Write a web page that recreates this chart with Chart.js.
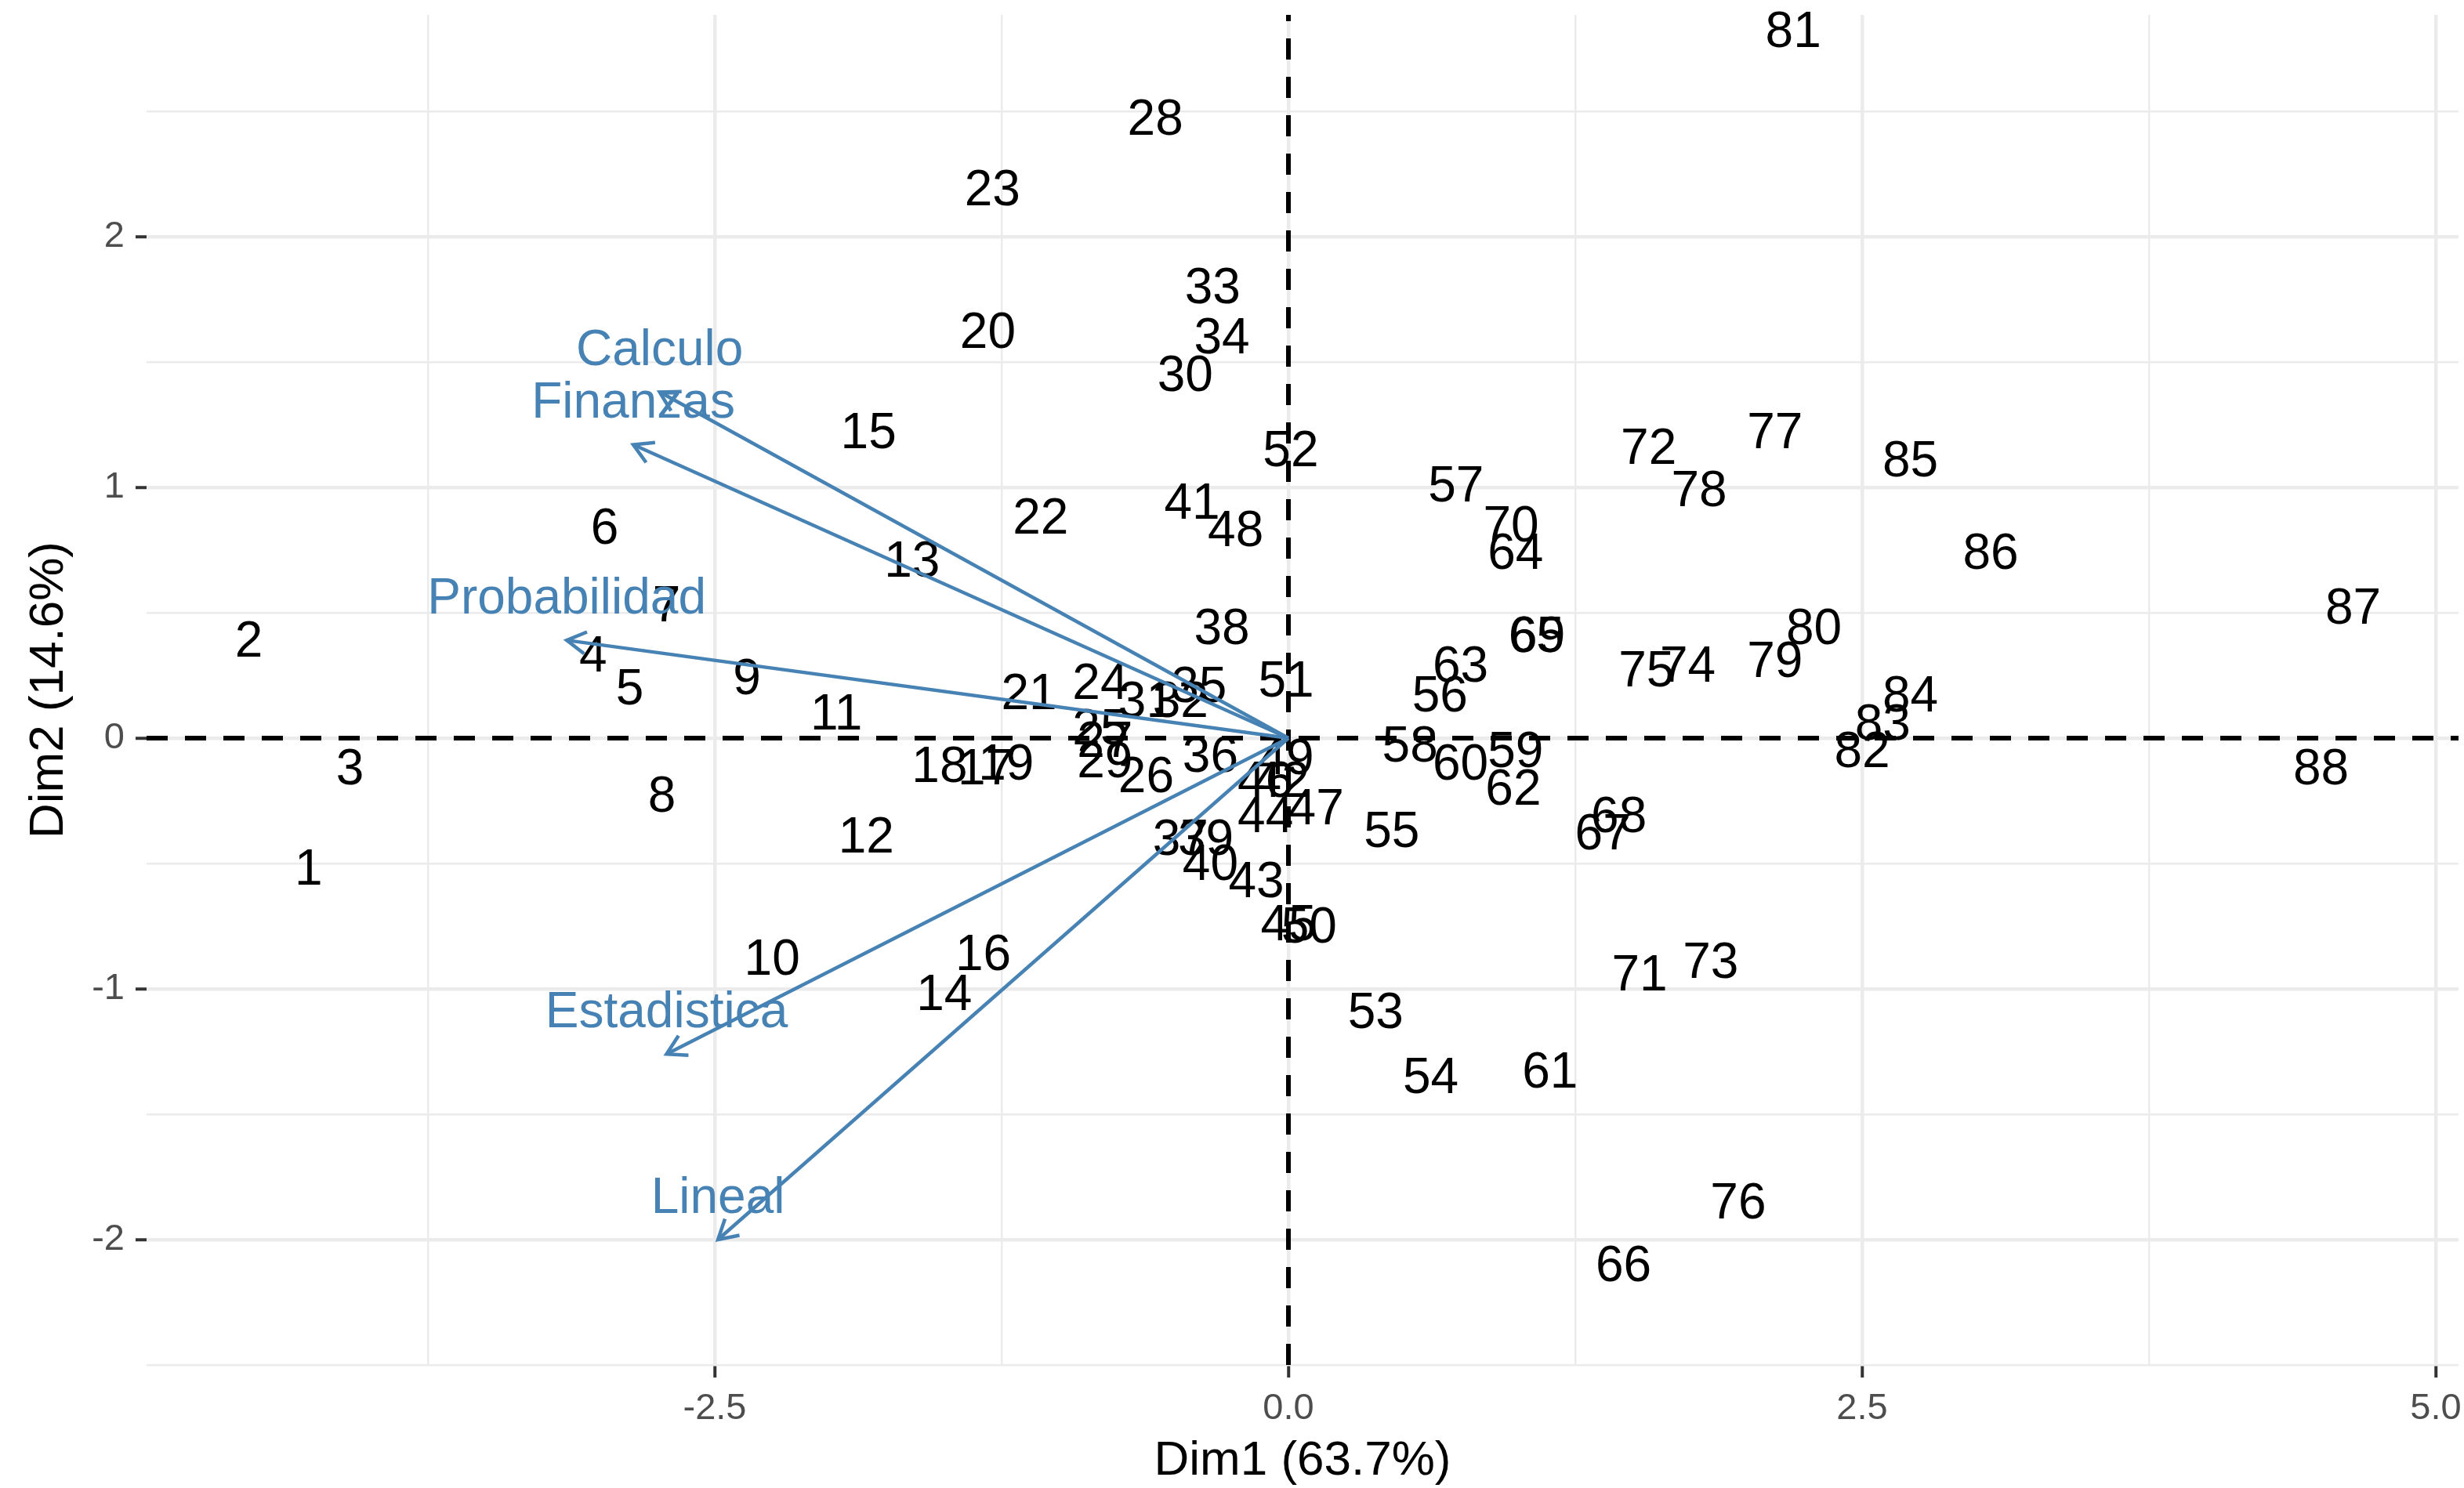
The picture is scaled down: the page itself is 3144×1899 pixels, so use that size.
<!DOCTYPE html>
<html lang="es">
<head>
    <meta charset="UTF-8" />
    <title>Biplot ACP</title>
    <script src="https://cdn.jsdelivr.net/npm/chart.js"></script>
    <style>
        * {
            box-sizing: border-box;
            margin: 0;
            padding: 0;
        }

        body {
            background: #ffffff;
        }

        .chart-box {
            width: 3144px;
            height: 1899px;
            position: relative;
        }
    </style>
</head>
<body>
    <div class="chart-box"><canvas id="biplot"></canvas></div>

    <script>
        // individuos (etiquetas) y sus coordenadas en Dim1 / Dim2
        const obsIds = [
            1, 2, 3, 4, 5, 6, 7, 8, 9, 10,
            11, 12, 13, 14, 15, 16, 17, 18, 19, 20,
            21, 22, 23, 24, 25, 26, 27, 28, 29, 30,
            31, 32, 33, 34, 35, 36, 37, 38, 39, 40,
            41, 42, 43, 44, 45, 46, 47, 48, 49, 50,
            51, 52, 53, 54, 55, 56, 57, 58, 59, 60,
            61, 62, 63, 64, 65, 66, 67, 68, 69, 70,
            71, 72, 73, 74, 75, 76, 77, 78, 79, 80,
            81, 82, 83, 84, 85, 86, 87, 88
        ];
        const dim1 = [
            -4.27, -4.53, -4.09, -3.03, -2.87, -2.98, -2.71, -2.73, -2.36, -2.25,
            -1.97, -1.84, -1.64, -1.50, -1.83, -1.33, -1.32, -1.52, -1.23, -1.31,
            -1.13, -1.08, -1.29, -0.82, -0.82, -0.62, -0.80, -0.58, -0.80, -0.45,
            -0.62, -0.47, -0.33, -0.29, -0.39, -0.34, -0.47, -0.29, -0.36, -0.34,
            -0.42, -0.03, -0.14, -0.10, 0.00, -0.10, 0.12, -0.23, -0.01, 0.09,
            -0.01, 0.01, 0.38, 0.62, 0.45, 0.66, 0.73, 0.53, 0.99, 0.75,
            1.14, 0.98, 0.75, 0.99, 1.08, 1.46, 1.37, 1.44, 1.085, 0.97,
            1.53, 1.57, 1.84, 1.74, 1.56, 1.96, 2.12, 1.79, 2.12, 2.29,
            2.20, 2.50, 2.59, 2.71, 2.71, 3.06, 4.64, 4.50
        ];
        const dim2 = [
            -0.53, 0.38, -0.13, 0.32, 0.19, 0.83, 0.52, -0.24, 0.23, -0.89,
            0.09, -0.40, 0.70, -1.03, 1.21, -0.87, -0.13, -0.12, -0.11, 1.61,
            0.17, 0.87, 2.18, 0.21, 0.03, -0.16, -0.02, 2.46, -0.10, 1.44,
            0.14, 0.14, 1.79, 1.59, 0.20, -0.08, -0.41, 0.43, -0.41, -0.51,
            0.93, -0.18, -0.58, -0.32, -0.75, -0.18, -0.29, 0.82, -0.09, -0.76,
            0.22, 1.14, -1.10, -1.36, -0.38, 0.16, 1.00, -0.04, -0.06, -0.11,
            -1.34, -0.21, 0.28, 0.73, 0.40, -2.11, -0.39, -0.32, 0.40, 0.84,
            -0.95, 1.15, -0.90, 0.28, 0.26, -1.86, 1.21, 0.98, 0.30, 0.43,
            2.81, -0.06, 0.05, 0.16, 1.10, 0.73, 0.51, -0.13
        ];

        // variables (flechas)
        const varNames = ['Calculo', 'Finanzas', 'Probabilidad', 'Estadistica', 'Lineal'];
        const varDim1 = [-2.74, -2.855, -3.145, -2.71, -2.486];
        const varDim2 = [1.38, 1.17, 0.39, -1.26, -2.00];

        // ejes
        const xRange = [-4.976, 5.099];
        const yRange = [-2.5, 2.884];
        const xMajorTicks = [-2.5, 0, 2.5, 5];
        const yMajorTicks = [-2, -1, 0, 1, 2];
        const xTitle = 'Dim1 (63.7%)';
        const yTitle = 'Dim2 (14.6%)';

        const STEEL = '#4682B4';
        const FONT = '"Liberation Sans", Arial, Helvetica, sans-serif';
        Chart.defaults.font.family = FONT;

        const isMajor = (list, v) => list.some(t => Math.abs(t - v) < 1e-6);

        const biplotDecor = {
            id: 'biplotDecor',
            afterDatasetDraw(chart, args) {
                const ds = chart.data.datasets[args.index];
                if (ds.role !== 'obs') return;
                const ctx = chart.ctx;
                ctx.save();
                ctx.font = '64px ' + FONT;
                ctx.fillStyle = '#000000';
                ctx.textAlign = 'center';
                ctx.textBaseline = 'middle';
                args.meta.data.forEach((pt, i) => {
                    ctx.fillText(String(obsIds[i]), pt.x, pt.y);
                });
                ctx.restore();
            },
            afterDatasetsDraw(chart) {
                const ctx = chart.ctx;
                chart.data.datasets.forEach((ds, i) => {
                    if (ds.role !== 'var') return;
                    const meta = chart.getDatasetMeta(i);
                    const p0 = meta.data[0], p1 = meta.data[1];
                    const ang = Math.atan2(p1.y - p0.y, p1.x - p0.x);
                    const len = 28, spread = Math.PI / 6;
                    ctx.save();
                    ctx.strokeStyle = STEEL;
                    ctx.lineWidth = 4.5;
                    ctx.beginPath();
                    ctx.moveTo(p1.x - len * Math.cos(ang - spread), p1.y - len * Math.sin(ang - spread));
                    ctx.lineTo(p1.x, p1.y);
                    ctx.lineTo(p1.x - len * Math.cos(ang + spread), p1.y - len * Math.sin(ang + spread));
                    ctx.stroke();
                    ctx.font = '64px ' + FONT;
                    ctx.fillStyle = STEEL;
                    ctx.textAlign = 'center';
                    ctx.textBaseline = 'middle';
                    ctx.fillText(ds.label, p1.x, p1.y - 52);
                    ctx.restore();
                });
            }
        };

        const datasets = [];
        varNames.forEach((name, k) => {
            datasets.push({
                role: 'var',
                label: name,
                data: [{ x: 0, y: 0 }, { x: varDim1[k], y: varDim2[k] }],
                showLine: true,
                borderColor: STEEL,
                borderWidth: 4.5,
                pointRadius: 0,
                order: 1
            });
        });
        datasets.push({
            role: 'obs',
            label: 'individuos',
            data: dim1.map((x, i) => ({ x: x, y: dim2[i] })),
            pointRadius: 0,
            order: 2
        });
        datasets.push({
            role: 'zero',
            label: 'h0',
            data: [{ x: xRange[0], y: 0 }, { x: xRange[1], y: 0 }],
            showLine: true,
            borderColor: '#000000',
            borderWidth: 6,
            borderDash: [27, 22],
            pointRadius: 0,
            order: 3
        });
        datasets.push({
            role: 'zero',
            label: 'v0',
            data: [{ x: 0, y: yRange[0] }, { x: 0, y: yRange[1] }],
            showLine: true,
            borderColor: '#000000',
            borderWidth: 6,
            borderDash: [27, 22],
            pointRadius: 0,
            order: 3
        });

        new Chart(document.getElementById('biplot'), {
            type: 'scatter',
            data: { datasets: datasets },
            options: {
                responsive: true,
                maintainAspectRatio: false,
                devicePixelRatio: 1,
                animation: false,
                events: [],
                layout: {
                    autoPadding: false,
                    padding: { top: 19, right: 7, left: 0, bottom: 0 }
                },
                plugins: {
                    legend: { display: false },
                    tooltip: { enabled: false }
                },
                scales: {
                    x: {
                        type: 'linear',
                        min: xRange[0],
                        max: xRange[1],
                        afterFit(scale) {
                            scale.height = 157;
                            scale.paddingLeft = 0;
                            scale.paddingRight = 0;
                        },
                        border: { display: false },
                        grid: {
                            color: '#EBEBEB',
                            lineWidth: c => (c.tick && isMajor(xMajorTicks, c.tick.value)) ? 4.5 : 2.5,
                            tickLength: 16,
                            tickWidth: 4,
                            tickColor: c => (c.tick && isMajor(xMajorTicks, c.tick.value)) ? '#333333' : 'rgba(0,0,0,0)'
                        },
                        ticks: {
                            stepSize: 1.25,
                            includeBounds: false,
                            autoSkip: false,
                            maxRotation: 0,
                            padding: 12,
                            color: '#4D4D4D',
                            font: { size: 47 },
                            callback: v => isMajor(xMajorTicks, v) ? Number(v).toFixed(1) : ''
                        },
                        title: {
                            display: true,
                            text: xTitle,
                            color: '#000000',
                            font: { size: 62, lineHeight: 1 },
                            padding: { top: 0, bottom: 3 }
                        }
                    },
                    y: {
                        type: 'linear',
                        min: yRange[0],
                        max: yRange[1],
                        afterFit(scale) {
                            scale.width = 187;
                            scale.paddingTop = 0;
                            scale.paddingBottom = 0;
                        },
                        border: { display: false },
                        grid: {
                            color: '#EBEBEB',
                            lineWidth: c => (c.tick && isMajor(yMajorTicks, c.tick.value)) ? 4.5 : 2.5,
                            tickLength: 14,
                            tickWidth: 4,
                            tickColor: c => (c.tick && isMajor(yMajorTicks, c.tick.value)) ? '#333333' : 'rgba(0,0,0,0)'
                        },
                        ticks: {
                            stepSize: 0.5,
                            includeBounds: false,
                            autoSkip: false,
                            padding: 14,
                            color: '#4D4D4D',
                            font: { size: 47 },
                            callback: v => isMajor(yMajorTicks, v) ? String(Math.round(v)) : ''
                        },
                        title: {
                            display: true,
                            text: yTitle,
                            color: '#000000',
                            font: { size: 62, lineHeight: 1 },
                            padding: { top: 32, bottom: 0 }
                        }
                    }
                }
            },
            plugins: [biplotDecor]
        });
    </script>
</body>
</html>
